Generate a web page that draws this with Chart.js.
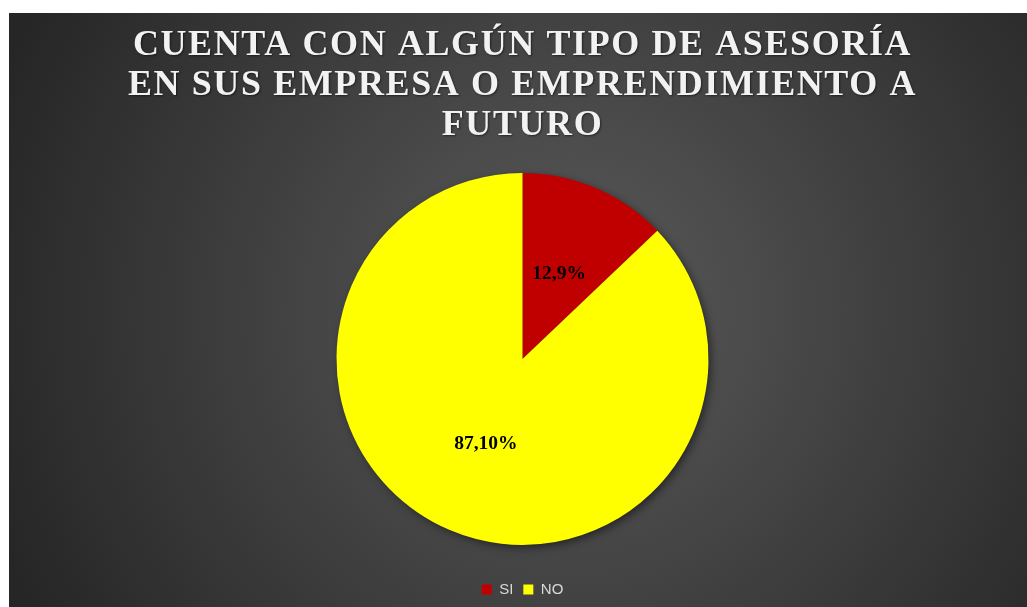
<!DOCTYPE html>
<html>
<head>
<meta charset="utf-8">
<script src="https://cdn.jsdelivr.net/npm/chart.js@4"></script>
<style>
    html, body { margin: 0; padding: 0; background: #fff; }
    #chart-area { position: absolute; left: 9px; top: 13px; width: 1018px; height: 594px; }
</style>
</head>
<body>
<div id="chart-area"><canvas id="chart"></canvas></div>
<script>
'use strict';

const categories = ['SI', 'NO'];
const values = [12.9, 87.1];
const valueLabels = ['12,9%', '87,10%'];
const titleLines = [
    'CUENTA CON ALGÚN TIPO DE ASESORÍA',
    'EN SUS EMPRESA O EMPRENDIMIENTO A',
    'FUTURO'
];

const sliceColors = ['#c00000', '#ffff00'];

const backgroundPlugin = {
    id: 'dark_gradient_background',
    beforeDraw: (chart) => {
        const ctx = chart.ctx;
        const w = chart.width;
        const h = chart.height;
        const grad = ctx.createRadialGradient(w * 0.55, h * 0.5, 0, w * 0.55, h * 0.5, Math.hypot(w, h) * 0.52);
        grad.addColorStop(0, '#5b5b5b');
        grad.addColorStop(1, '#262626');
        ctx.save();
        ctx.fillStyle = grad;
        ctx.fillRect(0, 0, w, h);
        ctx.restore();
    }
};

// el título de Excel tiene las letras algo espaciadas
const titleSpacingPlugin = {
    id: 'title_letter_spacing',
    afterLayout: (chart) => {
        const title = chart.titleBlock;
        if (!title || title._spaced) return;
        const draw = title.draw.bind(title);
        title.draw = (area) => {
            chart.ctx.save();
            chart.ctx.letterSpacing = '1.6px';
            chart.ctx.shadowColor = 'rgba(0, 0, 0, 0.5)';
            chart.ctx.shadowBlur = 2;
            chart.ctx.shadowOffsetX = 1;
            chart.ctx.shadowOffsetY = 1;
            draw(area);
            chart.ctx.restore();
        };
        title._spaced = true;
    }
};

const pieShadowPlugin = {
    id: 'pie_shadow',
    beforeDatasetsDraw: (chart) => {
        const arc = chart.getDatasetMeta(0).data[0];
        if (!arc) return;
        const { x, y, outerRadius } = arc.getProps(['x', 'y', 'outerRadius'], true);
        const ctx = chart.ctx;
        ctx.save();
        ctx.shadowColor = 'rgba(0, 0, 0, 0.55)';
        ctx.shadowBlur = 10;
        ctx.shadowOffsetX = 3;
        ctx.shadowOffsetY = 3;
        ctx.fillStyle = '#333';
        ctx.beginPath();
        ctx.arc(x, y, outerRadius - 1, 0, Math.PI * 2);
        ctx.fill();
        ctx.restore();
    }
};

const valueLabelPlugin = {
    id: 'value_labels',
    afterDatasetsDraw: (chart) => {
        const ctx = chart.ctx;
        ctx.save();
        ctx.letterSpacing = '0px';
        ctx.font = 'bold 19.5px "Liberation Serif", serif';
        ctx.fillStyle = '#000';
        ctx.textAlign = 'center';
        ctx.textBaseline = 'middle';
        chart.getDatasetMeta(0).data.forEach((arc, i) => {
            const pos = arc.tooltipPosition(true);
            ctx.fillText(valueLabels[i], pos.x, pos.y);
        });
        ctx.restore();
    }
};

const data = {
    labels: categories,
    datasets: [{
        data: values,
        backgroundColor: sliceColors,
        borderWidth: 0,
        hoverOffset: 0,
        radius: 186
    }]
};

const options = {
    responsive: true,
    maintainAspectRatio: false,
    animation: false,
    layout: {
        padding: { top: 0, bottom: 0, left: 9, right: 0 }
    },
    plugins: {
        title: {
            display: true,
            text: titleLines,
            color: '#f2f2f2',
            font: { family: '"Liberation Serif", serif', size: 36, weight: 'bold', lineHeight: 1.11 },
            padding: { top: 13, bottom: 0 }
        },
        legend: {
            position: 'bottom',
            labels: {
                color: '#d9d9d9',
                boxWidth: 10,
                boxHeight: 10,
                padding: 10,
                font: { family: '"Liberation Sans", sans-serif', size: 15 }
            }
        },
        tooltip: { enabled: false }
    }
};

new Chart(document.getElementById('chart'), {
    type: 'pie',
    data: data,
    options: options,
    plugins: [backgroundPlugin, titleSpacingPlugin, pieShadowPlugin, valueLabelPlugin]
});
</script>
</body>
</html>
